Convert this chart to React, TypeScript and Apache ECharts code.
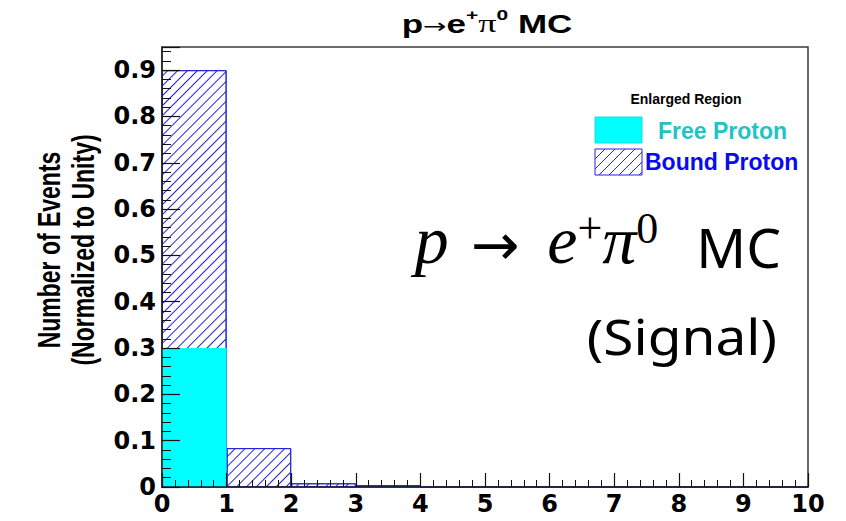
import { useEffect, useRef } from 'react';
import * as echarts from 'echarts';

// ---- data ----
const binCenters = [0.5, 1.5, 2.5, 3.5, 4.5, 5.5, 6.5, 7.5, 8.5, 9.5];
// Free proton histogram (solid cyan)
const freeProton = [0.3, 0, 0, 0, 0, 0, 0, 0, 0, 0];
// Bound proton histogram top as drawn (hatched, free drawn over it)
const boundProton = [0.9, 0.084, 0.008, 0.004, 0, 0, 0, 0, 0, 0];
const xRange = [0, 10];
const yRange = [0, 0.95];
const legendTitle = 'Enlarged Region';
const legendNames = ['Free Proton', 'Bound Proton'];
const yTitleLines = ['Number of Events', '(Normalized to Unity)'];

const CYAN = '#00ffff';
const BLUE = '#2424d8';
const AXIS_FONT = 'DejaVu Sans';

function hatchLines(x0: number, y0: number, x1: number, y1: number, step: number) {
  const h = y1 - y0;
  const out: any[] = [];
  for (let a = x0 - h; a < x1; a += step) {
    const tmin = Math.max(0, x0 - a);
    const tmax = Math.min(h, x1 - a);
    if (tmax <= tmin) continue;
    out.push({
      type: 'line',
      shape: { x1: a + tmin, y1: y1 - tmin, x2: a + tmax, y2: y1 - tmax },
      style: { stroke: BLUE, lineWidth: 1 },
      z: 20,
    });
  }
  return out;
}

export default function App() {
  const ref = useRef<HTMLDivElement>(null);
  useEffect(() => {
    const chart = echarts.init(ref.current!, null, { renderer: 'svg' });
    const option: any = {
      animation: false,
      backgroundColor: '#ffffff',
      grid: {
        left: 162,
        right: 38,
        top: 47,
        bottom: 34,
        show: true,
        borderColor: '#3a3a3a',
        borderWidth: 1.5,
        backgroundColor: 'transparent',
      },
      xAxis: {
        type: 'value',
        min: xRange[0],
        max: xRange[1],
        interval: 1,
        z: 10,
        axisLine: { show: true, lineStyle: { color: '#222', width: 1.5 } },
        axisTick: { show: true, inside: true, length: 14, lineStyle: { color: '#111', width: 1.2 } },
        minorTick: { show: true, splitNumber: 5, length: 7, lineStyle: { color: '#111', width: 1 } },
        splitLine: { show: false },
        axisLabel: {
          margin: 5,
          color: '#000',
          fontFamily: AXIS_FONT,
          fontWeight: 'bold',
          fontSize: 24,
        },
      },
      yAxis: {
        type: 'value',
        min: yRange[0],
        max: yRange[1],
        interval: 0.1,
        z: 10,
        axisLine: { show: true, lineStyle: { color: '#222', width: 1.5 } },
        axisTick: { show: true, inside: true, length: 18, lineStyle: { color: '#111', width: 1.2 } },
        minorTick: { show: true, splitNumber: 5, length: 9, lineStyle: { color: '#111', width: 1 } },
        splitLine: { show: false },
        axisLabel: {
          margin: 6,
          color: '#000',
          fontFamily: AXIS_FONT,
          fontWeight: 'bold',
          fontSize: 24,
          showMaxLabel: false,
        },
      },
      series: [
        {
          name: legendNames[1],
          type: 'bar',
          barWidth: '100%',
          barGap: '-100%',
          data: binCenters.map((c, i) => [c, boundProton[i]]),
          itemStyle: {
            color: '#ffffff',
            borderColor: BLUE,
            borderWidth: 1,
            decal: {
              symbol: 'rect',
              symbolSize: 1,
              color: BLUE,
              backgroundColor: '#ffffff',
              dashArrayX: [1, 0],
              dashArrayY: [1, 5.5],
              rotation: -Math.PI / 4,
            },
          },
          z: 2,
        },
        {
          name: legendNames[0],
          type: 'bar',
          barWidth: '100%',
          barGap: '-100%',
          data: binCenters.map((c, i) => [c, freeProton[i]]),
          itemStyle: { color: CYAN, borderWidth: 0 },
          z: 3,
        },
      ],
      graphic: [
        {
          type: 'text',
          x: 487,
          y: 22,
          scaleX: 1.4,
          style: {
            text: '{b|p}{ar|→}{b|e}{sup|+}{g|π}{sup|0}{b| MC}',
            align: 'center',
            verticalAlign: 'middle',
            rich: {
              b: { fontFamily: 'Liberation Sans', fontWeight: 'bold', fontSize: 25, fill: '#000', verticalAlign: 'bottom', lineHeight: 29 },
              ar: { fontFamily: 'DejaVu Sans', fontSize: 20, fill: '#000', verticalAlign: 'bottom', lineHeight: 28 },
              g: { fontFamily: 'Liberation Serif', fontSize: 26, fill: '#000', verticalAlign: 'bottom', lineHeight: 29 },
              sup: { fontFamily: 'Liberation Sans', fontWeight: 'bold', fontSize: 15, fill: '#000', verticalAlign: 'top' },
            },
          },
        },
        ...yTitleLines.map((t, i) => ({
          type: 'text',
          x: 49 + i * 34,
          y: 250,
          rotation: Math.PI / 2,
          scaleY: 1.4,
          style: {
            text: t,
            align: 'center',
            verticalAlign: 'middle',
            fontFamily: 'Liberation Sans',
            fontWeight: 'bold',
            fontSize: 23,
            fill: '#000',
          },
        })),
        {
          type: 'text',
          x: 686,
          y: 99,
          style: {
            text: legendTitle,
            align: 'center',
            verticalAlign: 'middle',
            fontFamily: 'Liberation Sans',
            fontWeight: 'bold',
            fontSize: 14,
            fill: '#000',
          },
        },
        {
          type: 'rect',
          shape: { x: 595, y: 117, width: 47, height: 26 },
          style: { fill: CYAN, stroke: '#22d8d8', lineWidth: 1 },
          z: 20,
        },
        {
          type: 'text',
          x: 658,
          y: 131,
          style: {
            text: legendNames[0],
            align: 'left',
            verticalAlign: 'middle',
            fontFamily: 'Liberation Sans',
            fontWeight: 'bold',
            fontSize: 23,
            fill: '#1fc4c4',
          },
        },
        {
          type: 'rect',
          shape: { x: 595, y: 149, width: 47, height: 26 },
          style: { fill: '#fff', stroke: BLUE, lineWidth: 1 },
          z: 19,
        },
        ...hatchLines(595, 149, 642, 175, 10),
        {
          type: 'text',
          x: 645,
          y: 162,
          style: {
            text: legendNames[1],
            align: 'left',
            verticalAlign: 'middle',
            fontFamily: 'Liberation Sans',
            fontWeight: 'bold',
            fontSize: 23,
            fill: '#0a0af0',
          },
        },
        {
          type: 'text',
          x: 781,
          y: 240,
          style: {
            text: '{m|p}{g1| }{a|→}{g2| }{m|e}{s|+}{m|π}{s|0}{g3| }{n|MC}',
            align: 'right',
            verticalAlign: 'middle',
            fontFamily: 'Noto Sans',
            fontSize: 50,
            fill: '#000',
            rich: {
              m: { fontFamily: 'Liberation Serif', fontStyle: 'italic', fontSize: 68, fill: '#000', verticalAlign: 'bottom', lineHeight: 56 },
              a: { fontFamily: 'DejaVu Sans', fontSize: 58, fill: '#000', verticalAlign: 'bottom', lineHeight: 64 },
              s: { fontFamily: 'Liberation Serif', fontSize: 44, fill: '#000', verticalAlign: 'top', lineHeight: 40 },
              n: { fontFamily: 'Noto Sans', fontSize: 55, fill: '#000', verticalAlign: 'bottom', lineHeight: 68 },
              g1: { fontSize: 10, width: 22 },
              g2: { fontSize: 10, width: 28 },
              g3: { fontSize: 10, width: 38 },
            },
          },
        },
        {
          type: 'text',
          x: 777,
          y: 335,
          scaleX: 1.1,
          style: {
            text: '(Signal)',
            align: 'right',
            verticalAlign: 'middle',
            fontFamily: 'Noto Sans',
            fontSize: 50,
            fill: '#000',
          },
        },
      ],
    };
    chart.setOption(option);
    return () => chart.dispose();
  }, []);
  return <div ref={ref} style={{ position: 'absolute', left: 0, top: 0, width: 846, height: 521 }} />;
}
